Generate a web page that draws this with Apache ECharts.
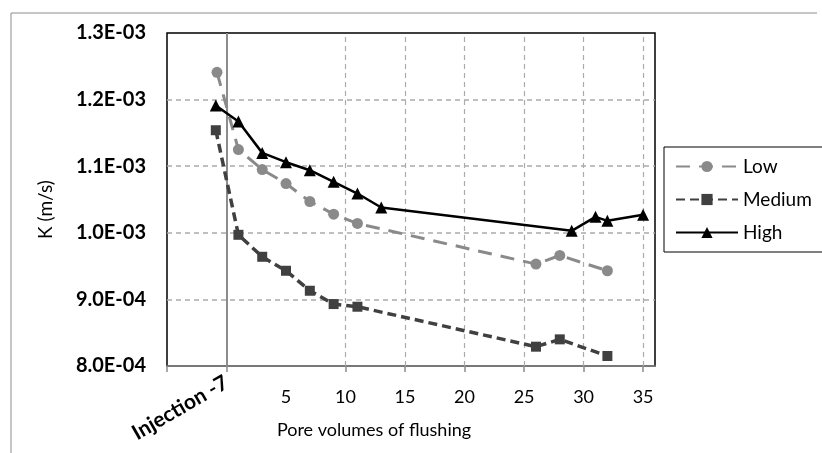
<!DOCTYPE html>
<html>
<head>
<meta charset="utf-8">
<script src="https://cdn.jsdelivr.net/npm/echarts@6/dist/echarts.min.js"></script>
<style>
html,body{margin:0;padding:0;background:#fff;}
#chart{width:822px;height:453px;}
</style>
</head>
<body>
<div id="chart"></div>
<script>
// ---- data ----
const lowX = [-0.8, 1, 3, 5, 7, 9, 11, 26, 28, 32];
const lowY = [1.241e-3, 1.125e-3, 1.095e-3, 1.074e-3, 1.047e-3, 1.028e-3, 1.014e-3, 9.53e-4, 9.66e-4, 9.43e-4];
const medX = [-0.9, 1, 3, 5, 7, 9, 11, 26, 28, 32];
const medY = [1.154e-3, 9.97e-4, 9.64e-4, 9.43e-4, 9.13e-4, 8.93e-4, 8.89e-4, 8.29e-4, 8.40e-4, 8.15e-4];
const highX = [-0.9, 1, 3, 5, 7, 9, 11, 13, 29, 31, 32, 35];
const highY = [1.191e-3, 1.167e-3, 1.120e-3, 1.106e-3, 1.094e-3, 1.0765e-3, 1.059e-3, 1.038e-3, 1.003e-3, 1.024e-3, 1.018e-3, 1.027e-3];
const seriesNames = ['Low', 'Medium', 'High'];
const xTickValues = [-5, 0, 10, 15, 20, 25, 30, 35];
const xLabelValues = [5, 10, 15, 20, 25, 30, 35];
const xGridValues = [10, 15, 20, 25, 30, 35];
const injectionValue = [0];
const injectionLabel = 'Injection -7';
const xTitle = 'Pore volumes of flushing';
const yTitle = 'K (m/s)';

const FONT = 'Lato, "Open Sans", sans-serif';
function pairs(xs, ys) { return xs.map((x, i) => [x, ys[i]]); }
function sci(v) {
  if (v === 0) return '0.0E+00';
  let e = Math.floor(Math.log10(Math.abs(v)) + 1e-9);
  let m = v / Math.pow(10, e);
  if (Math.round(m * 10) / 10 >= 10) { m /= 10; e += 1; }
  const sign = e < 0 ? '-' : '+';
  const ea = Math.abs(e);
  return m.toFixed(1) + 'E' + sign + (ea < 10 ? '0' + ea : ea);
}

const chart = echarts.init(document.getElementById('chart'));
chart.setOption({
  backgroundColor: '#fff',
  animation: false,
  graphic: [
    { type: 'line', shape: { x1: 11, y1: 13, x2: 817, y2: 13 }, style: { stroke: '#8c8c8c', lineWidth: 1 } },
    { type: 'line', shape: { x1: 11, y1: 13, x2: 11, y2: 453 }, style: { stroke: '#8c8c8c', lineWidth: 1 } }
  ],
  grid: { left: 167, right: 167, top: 33, bottom: 87, show: true, borderColor: '#000', borderWidth: 1.5, backgroundColor: 'transparent' },
  legend: {
    orient: 'vertical', left: 664, top: 147,
    data: seriesNames,
    itemWidth: 62, itemHeight: 14, itemGap: 14,
    padding: [10, 40, 10, 11],
    borderColor: '#000', borderWidth: 1,
    textStyle: { fontFamily: FONT, fontSize: 19, color: '#000' }
  },
  xAxis: [{
    type: 'value', min: -5, max: 36, interval: 5,
    name: xTitle, nameLocation: 'middle', nameGap: 55,
    nameTextStyle: { fontFamily: FONT, fontSize: 18, color: '#000', padding: [0, 74, 0, 0] },
    axisLine: { show: true, lineStyle: { color: '#8c8c8c', width: 1.5 } },
    axisTick: { show: true, length: 6, customValues: xTickValues, lineStyle: { color: '#8c8c8c', width: 1.5 } },
    axisLabel: { customValues: xLabelValues, margin: 22, fontFamily: FONT, fontSize: 18, color: '#000' },
    splitLine: { show: false }
  }, {
    type: 'value', min: -5, max: 36, interval: 5, position: 'bottom',
    axisLine: { show: false }, axisTick: { show: false }, splitLine: { show: false },
    axisLabel: { customValues: injectionValue, rotate: 30, margin: 15, fontFamily: FONT, fontSize: 21, fontWeight: 'bold', color: '#000', formatter: () => injectionLabel }
  }],
  yAxis: {
    type: 'value', min: 0.0008, max: 0.0013, interval: 0.0001,
    name: yTitle, nameLocation: 'middle', nameGap: 112,
    nameTextStyle: { fontFamily: FONT, fontSize: 19, color: '#000', padding: [0, 20, 0, 0] },
    axisLine: { show: true, lineStyle: { color: '#000', width: 1.5 } },
    axisTick: { show: false },
    axisLabel: { margin: 21, fontFamily: FONT, fontSize: 20, fontWeight: 'bold', color: '#000', formatter: v => sci(v) },
    splitLine: { show: true, showMinLine: false, showMaxLine: false, lineStyle: { color: '#ababab', type: [5, 4], width: 1.5 } }
  },
  series: [
    {
      name: 'Low', type: 'line', data: pairs(lowX, lowY),
      symbol: 'circle', symbolSize: 11,
      itemStyle: { color: '#8a8a8a' },
      lineStyle: { color: '#8a8a8a', width: 3, type: [14, 9] },
      z: 3
    },
    {
      name: 'Medium', type: 'line', data: pairs(medX, medY),
      symbol: 'rect', symbolSize: 10,
      itemStyle: { color: '#404040' },
      lineStyle: { color: '#404040', width: 3.5, type: [9, 5] },
      z: 4
    },
    {
      name: 'High', type: 'line', data: pairs(highX, highY),
      symbol: 'triangle', symbolSize: 12,
      itemStyle: { color: '#000' },
      lineStyle: { color: '#000', width: 2.5 },
      z: 5,
      markLine: {
        silent: true, symbol: ['none', 'none'], label: { show: false },
        data: xGridValues.map(v => ({ xAxis: v, lineStyle: { color: '#ababab', type: [5, 4], width: 1.2 } }))
          .concat(injectionValue.map(v => ({ xAxis: v, lineStyle: { color: '#8c8c8c', type: 'solid', width: 2 } }))),
        z: 1
      }
    }
  ]
});
</script>
</body>
</html>
